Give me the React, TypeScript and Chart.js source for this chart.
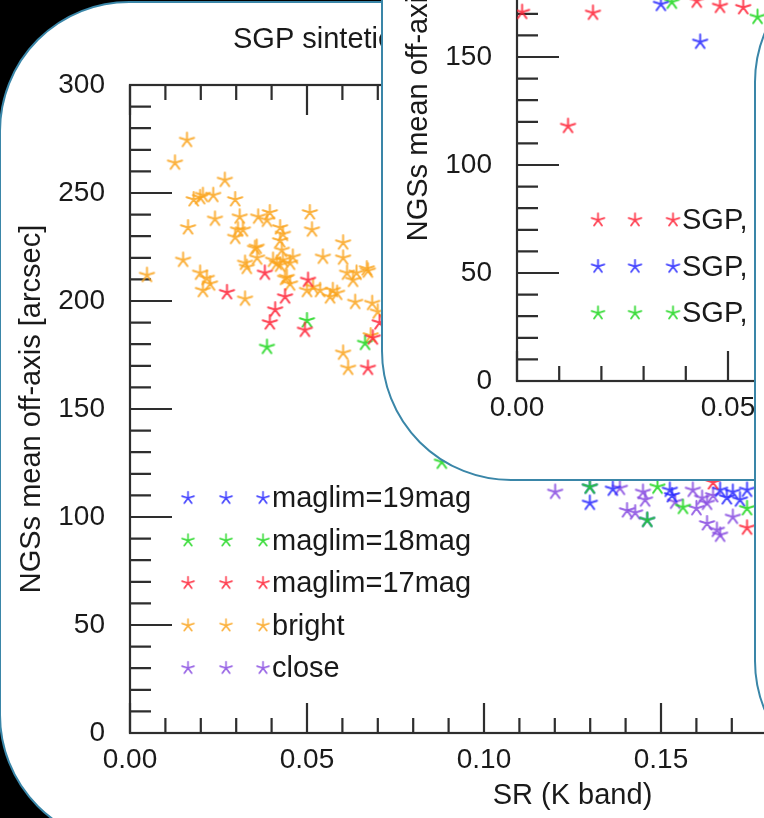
import React, { useEffect, useRef } from 'react';
import { Chart, registerables } from 'chart.js';

Chart.register(...registerables);

const FONT = '"Liberation Sans", Arial, Helvetica, sans-serif';
const TEAL = '#3a86a8';
const TXT = '#1a1a1a';

const COL_BLUE = 'rgba(40,40,255,0.85)';
const COL_GREEN = 'rgba(30,215,30,0.85)';
const COL_RED = 'rgba(255,35,55,0.85)';
const COL_ORANGE = 'rgba(250,165,30,0.85)';
const COL_PURPLE = 'rgba(135,75,225,0.85)';

// ---------- Main (back) panel data ----------
const AXIS_X_TITLE = 'SR (K band)';
const AXIS_Y_TITLE = 'NGSs mean off-axis [arcsec]';
const MAIN_TITLE = 'SGP sintetici';

const mainXMax = 0.25;
const mainYMax = 300;

const brightX = [0.0161, 0.0127, 0.0048, 0.0268, 0.0180, 0.0206, 0.0198, 0.0235, 0.0297, 0.0164, 0.0240, 0.0310, 0.0305, 0.0297, 0.0319, 0.0358, 0.0362, 0.0395, 0.0387, 0.0424, 0.0432, 0.0508, 0.0514, 0.0150, 0.0198, 0.0217, 0.0226, 0.0206, 0.0325, 0.0330, 0.0415, 0.0432, 0.0452, 0.0460, 0.0443, 0.0452, 0.0545, 0.0602, 0.0602, 0.0640, 0.0630, 0.0672, 0.0325, 0.0537, 0.0573, 0.0565, 0.0585, 0.0636, 0.0684, 0.0602, 0.0616, 0.0517, 0.0353, 0.0359, 0.0404, 0.0424, 0.0438, 0.0500, 0.0424, 0.0429, 0.0669, 0.0613, 0.0680, 0.0700];
const brightY = [274.5, 264, 212, 256, 247, 249, 248, 249, 247, 234, 238, 239, 233, 229.6, 233, 225, 239, 241, 237.5, 234, 231, 241, 233, 219, 213, 210.6, 208, 205, 217.6, 215.7, 217.6, 219, 217.6, 220.4, 211, 208, 220.4, 227, 220, 213, 209.7, 214, 201, 205, 205, 202, 203.7, 199.5, 199, 176, 169, 206.5, 224.5, 220, 219, 216.7, 210.6, 205, 228, 223.6, 215, 213, 184, 195];

const mag17X = [0.0274, 0.0381, 0.0503, 0.0438, 0.0410, 0.0395, 0.0494, 0.0672, 0.0686, 0.0705, 0.1647, 0.1743];
const mag17Y = [204, 213, 209.7, 202, 196, 190, 186.6, 169, 183, 190, 116, 95];

const mag18X = [0.0387, 0.0500, 0.0664, 0.0881, 0.1299, 0.1461, 0.1490, 0.1562, 0.1743];
const mag18Y = [178.7, 191, 180.5, 125.5, 114, 98.6, 114, 104.6, 104];

const mag19X = [0.1299, 0.1364, 0.1461, 0.1525, 0.1531, 0.1667, 0.1686, 0.1703, 0.1723, 0.1743, 0.1299];
const mag19Y = [106.5, 113, 98.6, 112.5, 110, 112.5, 109, 111.6, 108, 112.5, 114];

const closeX = [0.1201, 0.1384, 0.1404, 0.1427, 0.1455, 0.1449, 0.1540, 0.1590, 0.1616, 0.1630, 0.1647, 0.1630, 0.1658, 0.1667, 0.1703, 0.1600];
const closeY = [111.6, 113.4, 103, 102, 108, 111.6, 107, 112.5, 108.8, 106.5, 110, 97, 94, 91.7, 100, 104];

const mainLabels = ['maglim=19mag', 'maglim=18mag', 'maglim=17mag', 'bright', 'close'];

// ---------- Second (middle) panel data ----------
const p2XMax = 0.2;
const p2YMax = 300;

const sgpRedX = [0.0012, 0.0180, 0.0121, 0.0481, 0.0536, 0.0426];
const sgpRedY = [170.8, 170.4, 118, 173.6, 173, 176];
const sgpBlueX = [0.0341, 0.0434];
const sgpBlueY = [174.5, 157];
const sgpGreenX = [0.0367, 0.0570];
const sgpGreenY = [175.5, 168.5];

const p2Labels = ['SGP, maglim=17mag', 'SGP, maglim=19mag', 'SGP, maglim=18mag'];

// ---------- helpers ----------
function pts(xs: number[], ys: number[]) {
  return xs.map((x, i) => ({ x, y: ys[i] }));
}

function makeStar(color: string, size: number, lw: number) {
  const c = document.createElement('canvas');
  c.width = size;
  c.height = size;
  const g = c.getContext('2d')!;
  const r = size / 2 - lw;
  g.strokeStyle = color;
  g.lineWidth = lw;
  g.lineCap = 'round';
  g.beginPath();
  for (let k = 0; k < 5; k++) {
    const a = -Math.PI / 2 + (k * 2 * Math.PI) / 5;
    g.moveTo(size / 2, size / 2);
    g.lineTo(size / 2 + r * Math.cos(a), size / 2 + r * Math.sin(a));
  }
  g.stroke();
  return c;
}

const idlAxes = {
  id: 'idlAxes',
  beforeDatasetsDraw(chart: any, _args: any, o: any) {
    const { ctx, chartArea: a, scales } = chart;
    const xs = scales.x;
    const ys = scales.y;
    ctx.save();
    ctx.strokeStyle = o.color;
    ctx.lineWidth = o.lineWidth;
    ctx.strokeRect(a.left, a.top, a.right - a.left, a.bottom - a.top);
    ctx.beginPath();
    const nX = Math.round((xs.max - xs.min) / o.xMinor);
    for (let i = 0; i <= nX; i++) {
      const p = xs.getPixelForValue(xs.min + i * o.xMinor);
      const L = i % o.xPer === 0 ? o.xMajorLen : o.xMinorLen;
      ctx.moveTo(p, a.bottom);
      ctx.lineTo(p, a.bottom - L);
      ctx.moveTo(p, a.top);
      ctx.lineTo(p, a.top + L);
    }
    const nY = Math.round((ys.max - ys.min) / o.yMinor);
    for (let i = 0; i <= nY; i++) {
      const p = ys.getPixelForValue(ys.min + i * o.yMinor);
      const L = i % o.yPer === 0 ? o.yMajorLen : o.yMinorLen;
      ctx.moveTo(a.left, p);
      ctx.lineTo(a.left + L, p);
      ctx.moveTo(a.right, p);
      ctx.lineTo(a.right - L, p);
    }
    ctx.stroke();
    ctx.restore();
  },
};

const idlLegend = {
  id: 'idlLegend',
  afterDatasetsDraw(chart: any, _args: any, o: any) {
    if (!o || !o.order) return;
    const { ctx, chartArea: a } = chart;
    ctx.save();
    ctx.font = `${o.fontSize}px ${FONT}`;
    ctx.fillStyle = TXT;
    ctx.textAlign = 'left';
    ctx.textBaseline = 'middle';
    o.order.forEach((di: number, row: number) => {
      const ds = chart.data.datasets[di];
      const y = a.top + o.top + row * o.step;
      const img = ds.pointStyle as HTMLCanvasElement;
      o.starX.forEach((sx: number) => {
        const x = a.left + sx;
        ctx.drawImage(img, x - o.starSize / 2, y - o.starSize / 2, o.starSize, o.starSize);
      });
      ctx.fillText(ds.label, a.left + o.textX, y + 1);
    });
    ctx.restore();
  },
};

const idlTitle = {
  id: 'idlTitle',
  afterDraw(chart: any, _args: any, o: any) {
    if (!o || !o.text) return;
    const { ctx } = chart;
    ctx.save();
    ctx.font = `${o.fontSize}px ${FONT}`;
    ctx.fillStyle = TXT;
    ctx.textAlign = 'left';
    ctx.textBaseline = 'middle';
    ctx.fillText(o.text, o.x, o.y);
    ctx.restore();
  },
};

function buildConfig(datasets: any[], xMax: number, yMax: number, legend: any, title: any) {
  return {
    type: 'scatter',
    data: { datasets },
    options: {
      responsive: false,
      animation: false,
      devicePixelRatio: 1,
      events: [],
      layout: { padding: { top: 85, right: 85, left: 0, bottom: 0 } },
      plugins: {
        legend: { display: false },
        tooltip: { enabled: false },
        title: { display: false },
        idlAxes: {
          color: '#2e2e2e', lineWidth: 2.2,
          xMinor: 0.01, xPer: 5, xMajorLen: 30, xMinorLen: 15,
          yMinor: 10, yPer: 5, yMajorLen: 42, yMinorLen: 21,
        },
        idlLegend: legend,
        idlTitle: title,
      },
      scales: {
        x: {
          type: 'linear',
          min: 0,
          max: xMax,
          afterFit: (s: any) => { s.height = 85; },
          grid: { display: false },
          border: { display: false },
          ticks: {
            stepSize: 0.05,
            autoSkip: false,
            maxRotation: 0,
            padding: 2,
            color: TXT,
            font: { family: FONT, size: 28 },
            callback: (v: any) => Number(v).toFixed(2),
          },
          title: {
            display: true,
            text: AXIS_X_TITLE,
            color: TXT,
            font: { family: FONT, size: 29 },
            padding: { top: 0, bottom: 5 },
          },
        },
        y: {
          type: 'linear',
          min: 0,
          max: yMax,
          afterFit: (s: any) => { s.width = 130; },
          grid: { display: false },
          border: { display: false },
          ticks: {
            stepSize: 50,
            padding: 17,
            color: TXT,
            font: { family: FONT, size: 28 },
            callback: (v: any) => String(Math.round(Number(v))),
          },
          title: {
            display: true,
            text: AXIS_Y_TITLE,
            color: TXT,
            font: { family: FONT, size: 29 },
            padding: { top: 15, bottom: 0 },
          },
        },
      },
    },
    plugins: [idlAxes, idlLegend, idlTitle],
  } as any;
}

// card geometry (viewport px)
const MAIN_CARD = { left: -1, top: 1, width: 1300, height: 844, bw: 2.5 };
const P2_CARD = { left: 381, top: -420, width: 1000, height: 901, bw: 2.5 };
const P3_CARD = { left: 754, top: -48, width: 300, height: 839, bw: 2.5 };

const MAIN_CANVAS = { x: 0, y: 0, w: 1100, h: 818 };
const P2_CANVAS = { x: 387, y: -352, w: 1059, h: 818 };

function cardStyle(c: any, radius: any): React.CSSProperties {
  return {
    position: 'absolute',
    left: c.left,
    top: c.top,
    width: c.width,
    height: c.height,
    boxSizing: 'border-box',
    border: `${c.bw}px solid ${TEAL}`,
    background: '#ffffff',
    overflow: 'hidden',
    ...radius,
  };
}

function canvasStyle(card: any, cv: any): React.CSSProperties {
  return {
    position: 'absolute',
    left: cv.x - card.left - card.bw,
    top: cv.y - card.top - card.bw,
    width: cv.w,
    height: cv.h,
  };
}

export default function App() {
  const mainRef = useRef<HTMLCanvasElement>(null);
  const p2Ref = useRef<HTMLCanvasElement>(null);

  useEffect(() => {
    const S = 19;
    const LW = 2;
    const sBlue = makeStar(COL_BLUE, S, LW);
    const sGreen = makeStar(COL_GREEN, S, LW);
    const sRed = makeStar(COL_RED, S, LW);
    const sOrange = makeStar(COL_ORANGE, S, LW);
    const sPurple = makeStar(COL_PURPLE, S, LW);

    const ds = (label: string, data: any[], star: HTMLCanvasElement) => ({
      label,
      data,
      pointStyle: star,
      pointRadius: 9,
      pointHoverRadius: 9,
      showLine: false,
    });

    const mainDatasets = [
      ds(mainLabels[2], pts(mag17X, mag17Y), sRed),
      ds(mainLabels[1], pts(mag18X, mag18Y), sGreen),
      ds(mainLabels[0], pts(mag19X, mag19Y), sBlue),
      ds(mainLabels[4], pts(closeX, closeY), sPurple),
      ds(mainLabels[3], pts(brightX, brightY), sOrange),
    ];
    const mainChart = new Chart(
      mainRef.current!,
      buildConfig(
        mainDatasets,
        mainXMax,
        mainYMax,
        { order: [2, 1, 0, 4, 3], starX: [58, 96, 133], textX: 142, top: 413, step: 42.5, starSize: 16, fontSize: 29 },
        { text: MAIN_TITLE, x: 233, y: 40, fontSize: 29 }
      )
    );

    const p2Datasets = [
      ds(p2Labels[0], pts(sgpRedX, sgpRedY), sRed),
      ds(p2Labels[1], pts(sgpBlueX, sgpBlueY), sBlue),
      ds(p2Labels[2], pts(sgpGreenX, sgpGreenY), sGreen),
    ];
    const p2Chart = new Chart(
      p2Ref.current!,
      buildConfig(
        p2Datasets,
        p2XMax,
        p2YMax,
        { order: [0, 1, 2], starX: [81, 118, 156], textX: 165, top: 487, step: 46.5, starSize: 17, fontSize: 29 },
        null
      )
    );

    return () => {
      mainChart.destroy();
      p2Chart.destroy();
    };
  }, []);

  return (
    <div
      style={{
        position: 'fixed',
        left: 0,
        top: 0,
        width: 764,
        height: 818,
        overflow: 'hidden',
        background: '#000000',
      }}
    >
      <div style={cardStyle(MAIN_CARD, { borderRadius: 130 })}>
        <canvas ref={mainRef} width={MAIN_CANVAS.w} height={MAIN_CANVAS.h} style={canvasStyle(MAIN_CARD, MAIN_CANVAS)} />
      </div>
      <div style={cardStyle(P2_CARD, { borderBottomLeftRadius: 130 })}>
        <canvas ref={p2Ref} width={P2_CANVAS.w} height={P2_CANVAS.h} style={canvasStyle(P2_CARD, P2_CANVAS)} />
      </div>
      <div style={cardStyle(P3_CARD, { borderTopLeftRadius: 130, borderBottomLeftRadius: 130 })} />
    </div>
  );
}
